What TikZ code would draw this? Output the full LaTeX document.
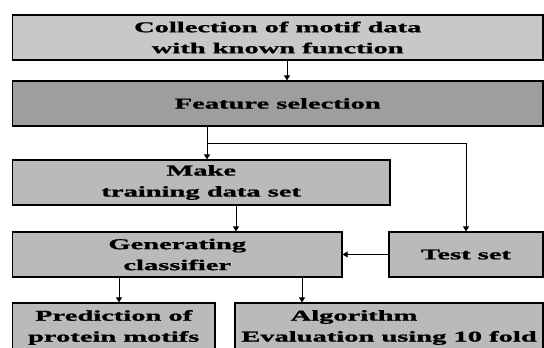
\documentclass[tikz,border=0pt]{standalone}
\usepackage{fontspec}
\setmainfont{Liberation Serif}[BoldFeatures={FakeBold=1}]
\usetikzlibrary{arrows.meta}
\newcommand{\sx}[1]{\scalebox{1.9}[1]{#1}}
\definecolor{boxA}{RGB}{200,200,200}
\definecolor{boxB}{RGB}{158,158,158}
\definecolor{boxC}{RGB}{186,186,186}
\begin{document}
\begin{tikzpicture}[x=1bp,y=-1bp,
  box/.style={draw=black,line width=1.2bp,rectangle,inner sep=0pt,align=center,
    font=\fontsize{15bp}{21bp}\selectfont\bfseries,fill=boxC},
  arr/.style={draw=black,line width=0.9bp,-{Triangle[length=5bp,width=6bp]}}]
\useasboundingbox (0,0) rectangle (544,347);
\fill[white] (0,0) rectangle (544,347);
\node[box,fill=boxA,minimum width=530.5bp,minimum height=45bp] (c1) at (277.75,37.5) {\sx{Collection of motif data}\\\sx{with known function}};
\node[box,fill=boxB,minimum width=530.5bp,minimum height=45bp] (feat) at (277.75,103.5) {\sx{Feature selection}};
\node[box,minimum width=377.5bp,minimum height=45bp] (make) at (201.25,182.5) {\sx{Make}\\\sx{training data set}};
\node[box,minimum width=329.5bp,minimum height=45bp] (gen) at (177.25,254.5) {\sx{Generating}\\\sx{classifier}};
\node[box,minimum width=154bp,minimum height=45bp] (test) at (466,254.5) {\sx{Test set}};
\node[box,minimum width=202.5bp,minimum height=49bp] (pred) at (113.75,327.5) {\sx{Prediction of}\\\sx{protein motifs}};
\node[box,minimum width=308bp,minimum height=49bp] (alg) at (389,327.5) {\sx{Algorithm}\hspace*{70bp}\\\sx{Evaluation using 10 fold}};
\coordinate (xa) at (287,0);
\coordinate (xb) at (207,0);
\coordinate (br) at (207,143);
\coordinate (xc) at (236,0);
\coordinate (xd) at (119,0);
\coordinate (xe) at (302,0);
\draw[arr] (c1.south -| xa) -- (feat.north -| xa);
\draw[arr] (feat.south -| xb) -- (make.north -| xb);
\draw[arr] (br) -| (test.north);
\draw[arr] (make.south -| xc) -- (gen.north -| xc);
\draw[arr] (test.west) -- (gen.east);
\draw[arr] (gen.south -| xd) -- (pred.north -| xd);
\draw[arr] (gen.south -| xe) -- (alg.north -| xe);
\end{tikzpicture}
\end{document}
